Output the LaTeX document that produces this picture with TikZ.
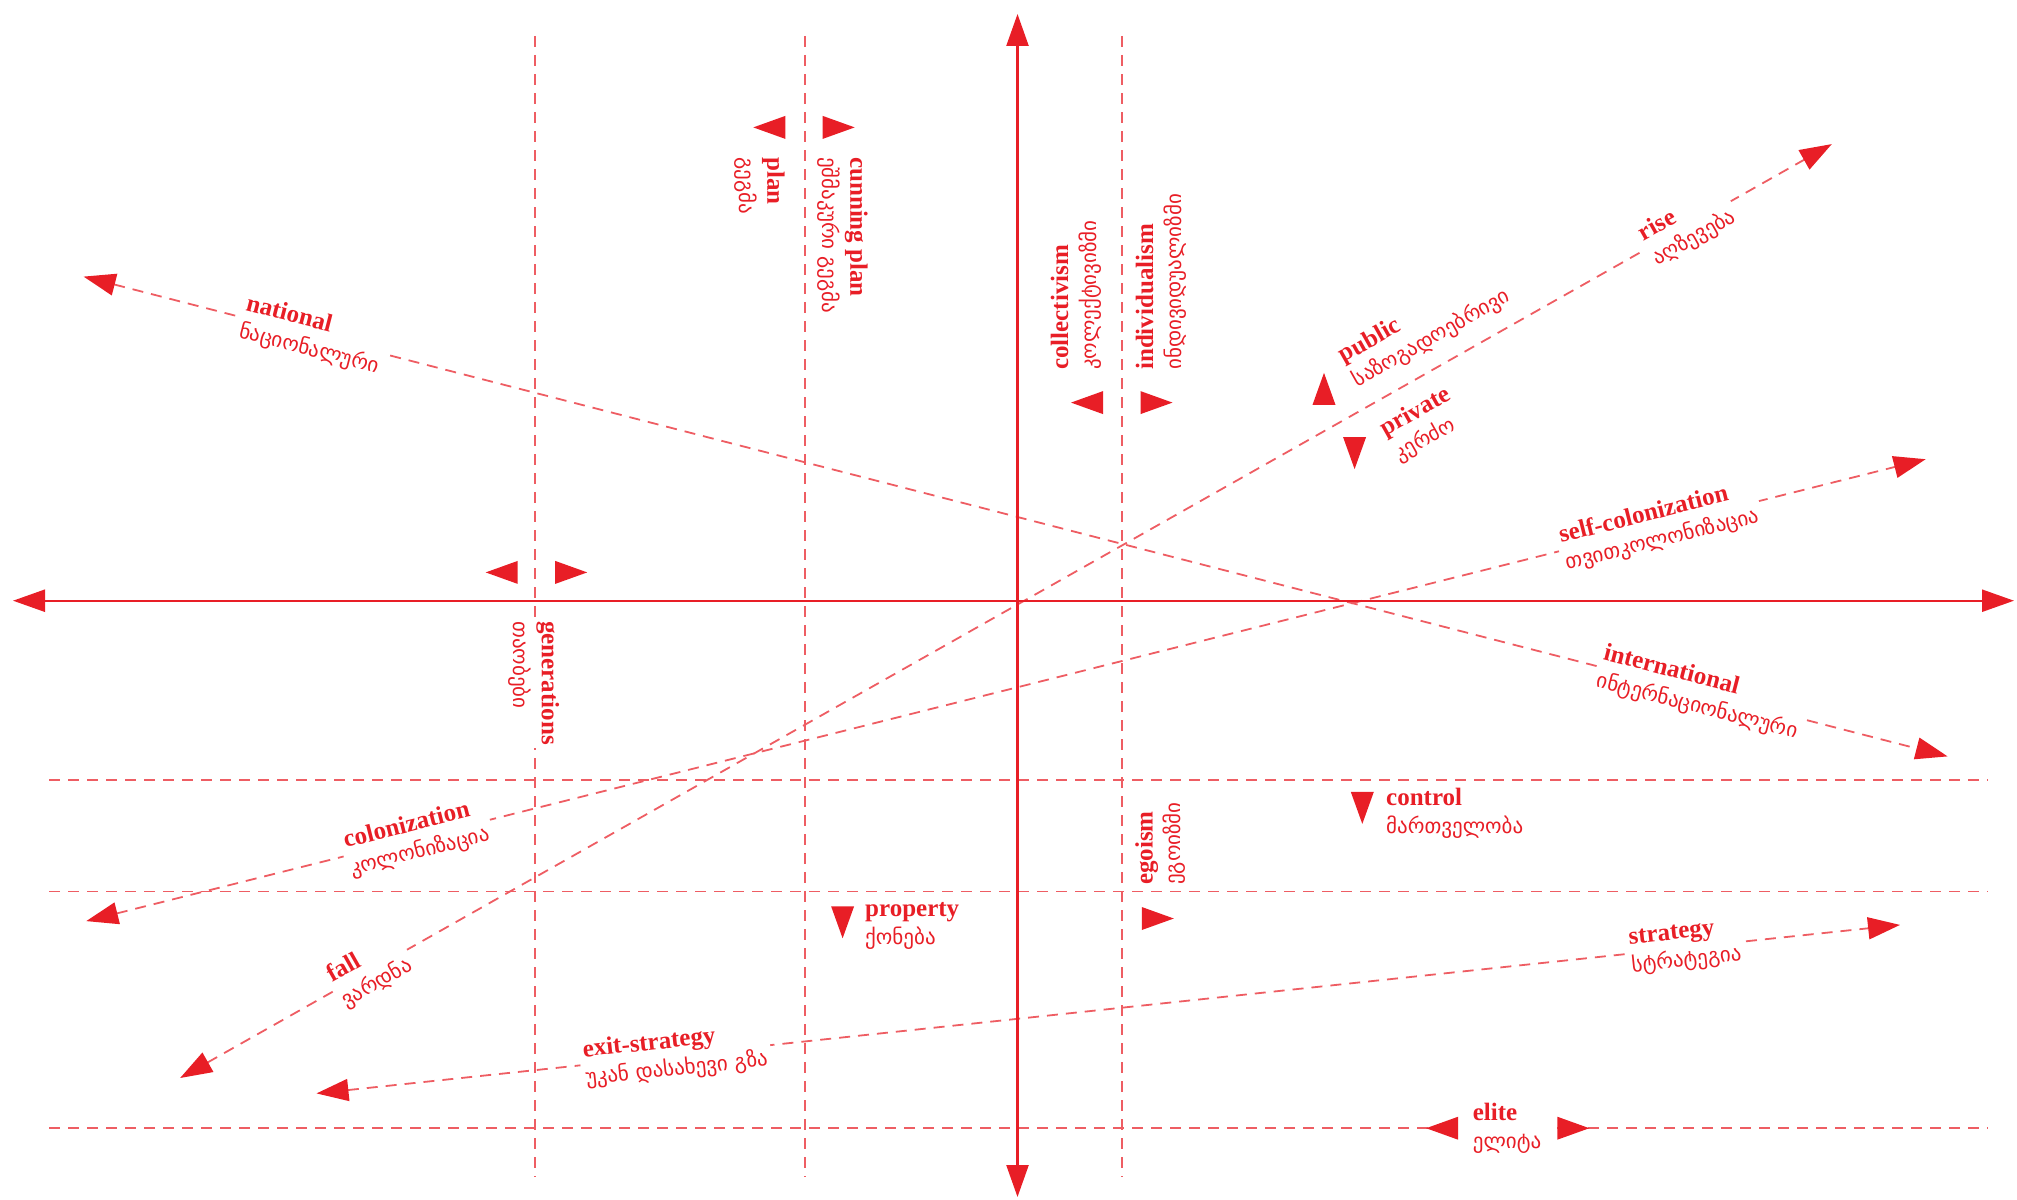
\documentclass[tikz,border=0pt]{standalone}
\usepackage{fontspec}
\setmainfont{Liberation Serif}
\newfontfamily\geofont{DejaVu Sans}
\usetikzlibrary{arrows.meta}
\definecolor{cred}{RGB}{232,30,38}
\colorlet{dred}{cred!72!white}
\newcommand\lblpair[2]{\textbf{#1}\\{\geofont\fontsize{21}{28}\selectfont #2}}
\begin{document}
\begin{tikzpicture}[x=1pt,y=-1pt,
  axis/.style={draw=cred, line width=2.4pt, {Triangle[length=32pt,width=22pt]}-{Triangle[length=32pt,width=22pt]}},
  gline/.style={draw=dred, line width=1.8pt, dash pattern=on 11pt off 8pt},
  darr/.style={gline, {Triangle[length=32pt,width=22pt,color=cred]}-{Triangle[length=32pt,width=22pt,color=cred]}},
  lbl/.style={text=cred, fill=white, align=left, inner sep=4pt, font=\fontsize{25}{28}\selectfont},
  ltxt/.style={text=cred, align=left, inner sep=2pt, font=\fontsize{25}{28}\selectfont},
  tri/.pic={\fill[cred] (16,0) -- (-16,11.5) -- (-16,-11.5) -- cycle;}
]
\useasboundingbox (0,0) rectangle (2017,1199);

% ---------- coordinates ----------
\coordinate (vt) at (1017.5,14);
\coordinate (vb) at (1017.5,1197);
\coordinate (hl) at (13,600.7);
\coordinate (hr) at (2014,600.7);

\coordinate (g1t) at (535,36);    \coordinate (g1b) at (535,1177);
\coordinate (g2t) at (805.3,36);  \coordinate (g2b) at (805.3,1177);
\coordinate (g3t) at (1121.7,36); \coordinate (g3b) at (1121.7,1177);
\coordinate (h1l) at (49,779.6);  \coordinate (h1r) at (1987.5,779.6);
\coordinate (h2l) at (49,891.5);  \coordinate (h2r) at (1987.5,891.5);
\coordinate (h3l) at (49,1128.2); \coordinate (h3r) at (1987.5,1128.2);

\coordinate (natL) at (83.6,276.6);
\coordinate (natR) at (1947.6,756.4);
\coordinate (fallL) at (180.1,1078);
\coordinate (riseR) at (1831.8,144.1);
\coordinate (colL) at (86.2,921.1);
\coordinate (colR) at (1925.7,459.2);
\coordinate (strL) at (316.5,1093.4);
\coordinate (strR) at (1900,924.9);

% ---------- diagonal dashed arrows ----------
\draw[darr] (natL) -- (natR)
  node[lbl, sloped, pos=0.1229] (lnat) {\lblpair{national}{ნაციონალური}}
  node[lbl, sloped, pos=0.8675] (lint) {\lblpair{international}{ინტერნაციონალური}};
\draw[darr] (fallL) -- (riseR)
  node[lbl, sloped, pos=0.1149] (lfall) {\lblpair{fall}{ვარდნა}}
  node[lbl, sloped, pos=0.9126] (lrise) {\lblpair{rise}{აღზევება}};
\draw[darr] (colL) -- (colR)
  node[lbl, sloped, pos=0.1797] (lcol) {\lblpair{colonization}{კოლონიზაცია}}
  node[lbl, sloped, pos=0.855] (lself) {\lblpair{self-colonization}{თვითკოლონიზაცია}};
\draw[darr] (strL) -- (strR)
  node[lbl, sloped, pos=0.2266] (lexit) {\lblpair{exit-strategy}{უკან დასახევი გზა}}
  node[lbl, sloped, pos=0.8644] (lstr) {\lblpair{strategy}{სტრატეგია}};

% ---------- dashed grid ----------
\draw[gline] (g1t) -- (g1b);
\draw[gline] (g2t) -- (g2b);
\draw[gline] (g3t) -- (g3b);
\draw[gline] (h1l) -- (h1r);
\draw[gline] (h2l) -- (h2r);
\draw[gline] (h3l) -- (h3r);

% ---------- labels breaking the grid ----------
\node[ltxt, fill=white, inner sep=3pt, rotate=-90, anchor=west] (lgen) at (534,618) {\lblpair{generations}{თაობები}};
\node[ltxt, fill=white, minimum width=100pt, inner sep=3pt] (lelite) at (1507,1128.2) {\lblpair{elite}{ელიტა}};

% ---------- other labels ----------
\node[ltxt, rotate=-90, anchor=west] (lplan) at (759.6,155) {\lblpair{plan}{გეგმა}};
\node[ltxt, rotate=-90, anchor=west] (lcun) at (842.6,155) {\lblpair{cunning plan}{ეშმაკური გეგმა}};
\node[ltxt, rotate=90, anchor=west] (lcoll) at (1076,372) {\lblpair{collectivism}{კოლექტივიზმი}};
\node[ltxt, rotate=90, anchor=west] (lind) at (1161,372) {\lblpair{individualism}{ინდივიდუალიზმი}};
\node[ltxt, rotate=90, anchor=west] (lego) at (1160.3,887) {\lblpair{egoism}{ეგოიზმი}};
\node[ltxt, anchor=west] (lcontrol) at (1384,813) {\lblpair{control}{მართველობა}};
\node[ltxt, anchor=west] (lprop) at (863,926) {\lblpair{property}{ქონება}};

% public / private along the rise line
\begin{scope}[shift={(fallL)}, rotate=29.48]
  \pic[rotate=90] at (1335,-37) {tri};
  \pic[rotate=-90] at (1330,34) {tri};
  \node[ltxt, rotate=29.48, anchor=west] (lpub) at (1363,-42) {\lblpair{public}{საზოგადოებრივი}};
  \node[ltxt, rotate=29.48, anchor=west] (lpriv) at (1363,43) {\lblpair{private}{კერძო}};
\end{scope}

% ---------- triangle markers ----------
\pic[rotate=180] at (501.7,572.4) {tri};
\pic at (571.2,572.4) {tri};
\pic[rotate=180] at (769.3,127.4) {tri};
\pic at (838.7,127.4) {tri};
\pic[rotate=180] at (1087,402.6) {tri};
\pic at (1156.5,402.6) {tri};
\pic at (1157.8,918.5) {tri};
\pic[rotate=-90] at (1362.3,807.9) {tri};
\pic[rotate=-90] at (842.6,922.3) {tri};
\pic[rotate=180] at (1442.1,1128.2) {tri};
\pic at (1573.3,1128.2) {tri};

% ---------- axes ----------
\draw[axis] (hl) -- (hr);
\draw[axis] (vt) -- (vb);
\end{tikzpicture}
\end{document}
